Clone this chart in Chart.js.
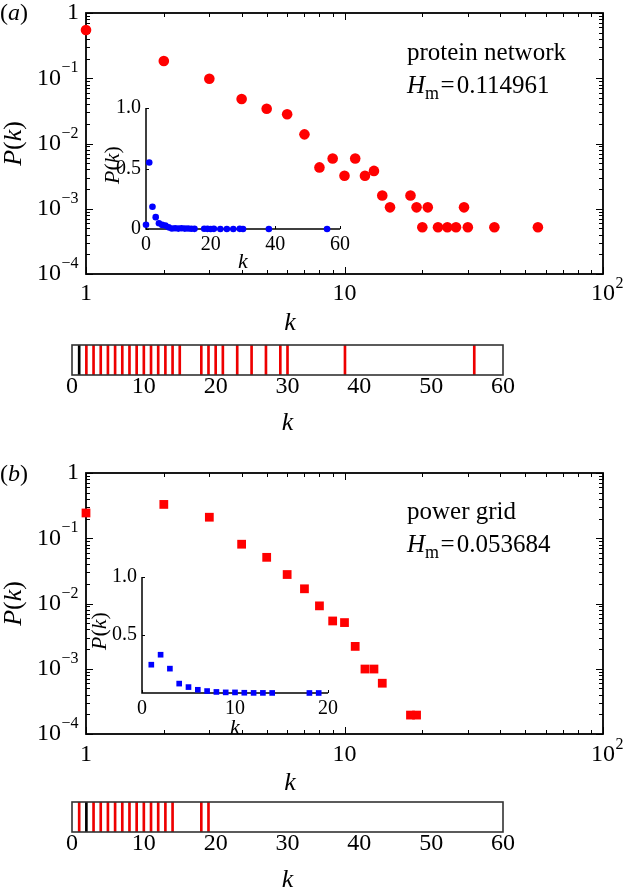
<!DOCTYPE html>
<html>
<head>
<meta charset="utf-8">
<script src="https://cdn.jsdelivr.net/npm/chart.js@4.4.1/dist/chart.umd.min.js"></script>
<style>
  html, body { margin: 0; padding: 0; background: #fff; }
  #fig { position: relative; width: 625px; height: 892px; overflow: hidden; }
  #fig canvas { position: absolute; }
</style>
</head>
<body>
<div id="fig">
  <canvas id="mainA" width="625" height="335" style="left:0;top:0"></canvas>
  <canvas id="insetA" width="260" height="175" style="left:95px;top:95px"></canvas>
  <canvas id="stripA" width="625" height="95" style="left:0;top:335px"></canvas>
  <canvas id="mainB" width="625" height="365" style="left:0;top:430px"></canvas>
  <canvas id="insetB" width="260" height="185" style="left:90px;top:555px"></canvas>
  <canvas id="stripB" width="625" height="97" style="left:0;top:795px"></canvas>
</div>
<script>
// (a) protein network degree distribution
const kA = [1, 2, 3, 4, 5, 6, 7, 8, 9, 10, 11, 12, 13, 14, 15, 18, 19, 20, 21, 23, 25, 27, 29, 30, 38, 56];
const pA = [0.55, 0.184, 0.098, 0.048, 0.034, 0.028, 0.0138, 0.0043, 0.0059, 0.0032, 0.0059, 0.0032, 0.0038,
            0.0016, 0.00105, 0.0016, 0.00105, 0.00052, 0.00105, 0.00052, 0.00052, 0.00052, 0.00105, 0.00052,
            0.00052, 0.00052];
// inset (a) also shows a point at k = 0
const kA0 = [0];
const pA0 = [0.035];
const hmA = '0.114961';

// (b) power grid degree distribution
const kB = [1, 2, 3, 4, 5, 6, 7, 8, 9, 10, 11, 12, 13, 14, 18, 19];
const pB = [0.244, 0.33, 0.21, 0.081, 0.051, 0.0278, 0.0168, 0.0092, 0.0054, 0.0051, 0.0022, 0.00099,
            0.00099, 0.0006, 0.000195, 0.000195];
const hmB = '0.053684';

// ticks
const kTicks = [1, 10, 100];
const pTicks = [1, 0.1, 0.01, 0.001, 0.0001];
const stripTicks = [0, 10, 20, 30, 40, 50, 60];
const insetKTicksA = [0, 20, 40, 60];
const insetPTicksA = [0, 0.5, 1.0];
const insetKTicksB = [0, 10, 20];
const insetPTicksB = [0.5, 1.0];

const SERIF = '"Liberation Serif", "Times New Roman", "DejaVu Serif", serif';
const RED = '#ff0000';
const BLUE = '#0000ff';

function font(size, it) { return (it ? 'italic ' : '') + size + 'px ' + SERIF; }

// draw a run of text pieces (italic / sub / sup) one after the other
function rich(ctx, parts, x, y, size, align, baseline) {
  ctx.textAlign = 'left';
  ctx.textBaseline = baseline || 'alphabetic';
  const widths = parts.map(p => { ctx.font = font(p.size || size, p.it); return ctx.measureText(p.t).width + (p.dx || 0); });
  const total = widths.reduce((s, w) => s + w, 0);
  let cx = align === 'center' ? x - total / 2 : align === 'right' ? x - total : x;
  parts.forEach((p, i) => {
    ctx.font = font(p.size || size, p.it);
    ctx.fillText(p.t, cx + (p.dx || 0) / 2, y + (p.dy || 0));
    cx += widths[i];
  });
  return total;
}

function powParts(v, size, plainTen) {
  const e = Math.round(Math.log10(v));
  if (e === 0) return [{ t: '1' }];
  if (e === 1 && plainTen) return [{ t: '10' }];
  return [{ t: '10' }, { t: (e < 0 ? '\u2212' : '') + Math.abs(e), size: Math.round(size * 0.66), dy: -size * 0.42, dx: 1 }];
}

const pkParts = [{ t: 'P', it: true }, { t: '(' }, { t: 'k', it: true }, { t: ')' }];

// MATLAB-like log-log box: frame, inward major/minor ticks, labels
function logBox(chart, o) {
  const { ctx, chartArea: a, scales: { x, y } } = chart;
  ctx.save();
  ctx.fillStyle = '#000';
  ctx.strokeStyle = '#000';
  ctx.lineWidth = 1;
  ctx.beginPath();
  for (let i = 0; i < kTicks.length; i++) {
    for (let m = 1; m < 10; m++) {
      const v = kTicks[i] * m;
      if (v > kTicks[kTicks.length - 1]) break;
      const px = Math.round(x.getPixelForValue(v)) + 0.5;
      const len = m === 1 ? 7 : 4;
      ctx.moveTo(px, a.bottom); ctx.lineTo(px, a.bottom - len);
      ctx.moveTo(px, a.top); ctx.lineTo(px, a.top + len);
    }
  }
  for (let i = pTicks.length - 1; i >= 0; i--) {
    for (let m = 1; m < 10; m++) {
      const v = pTicks[i] * m;
      if (v > pTicks[0]) break;
      const py = Math.round(y.getPixelForValue(v)) + 0.5;
      const len = m === 1 ? 7 : 4;
      ctx.moveTo(a.left, py); ctx.lineTo(a.left + len, py);
      ctx.moveTo(a.right, py); ctx.lineTo(a.right - len, py);
    }
  }
  ctx.stroke();
  ctx.lineWidth = 1.8;
  ctx.strokeRect(a.left, a.top, a.right - a.left, a.bottom - a.top);

  const ts = 24;
  // y tick labels
  pTicks.forEach(v => {
    rich(ctx, powParts(v, ts, false), a.left - 7, y.getPixelForValue(v), ts, 'right', 'middle');
  });
  // x tick labels, base centred on the tick
  kTicks.forEach(v => {
    const parts = powParts(v, ts, true);
    ctx.font = font(ts);
    const wb = ctx.measureText(parts[0].t).width;
    rich(ctx, parts, x.getPixelForValue(v) - wb / 2, a.bottom + o.xLabelDy, ts, 'left', 'middle');
  });
  // axis titles
  rich(ctx, [{ t: 'k', it: true }], 290, a.bottom + o.xTitleDy, 26, 'center', 'middle');
  ctx.save();
  ctx.translate(14, (a.top + a.bottom) / 2);
  ctx.rotate(-Math.PI / 2);
  rich(ctx, pkParts, 0, 0, 26, 'center', 'middle');
  ctx.restore();
  // panel letter
  rich(ctx, [{ t: '(' }, { t: o.letter, it: true }, { t: ')' }], 0, o.letterY, 24, 'left', 'middle');
  // annotation
  rich(ctx, [{ t: o.name }], 407, o.nameY, 25, 'left', 'alphabetic');
  rich(ctx, [{ t: 'H', it: true }, { t: 'm', size: 18, dy: 6 }, { t: '=', dx: 3 }, { t: o.hm, dx: 1 }],
       407, o.nameY + 33, 25, 'left', 'alphabetic');
  ctx.restore();
}

// inset with only left and bottom axis lines
function insetAxes(chart, o) {
  const { ctx, chartArea: a, scales: { x, y } } = chart;
  ctx.save();
  ctx.strokeStyle = '#000';
  ctx.fillStyle = '#000';
  ctx.lineWidth = 1.5;
  ctx.beginPath();
  ctx.moveTo(a.left, a.top); ctx.lineTo(a.left, a.bottom); ctx.lineTo(a.right, a.bottom);
  ctx.stroke();
  ctx.lineWidth = 1;
  ctx.beginPath();
  o.kTicks.forEach(v => {
    const px = Math.round(x.getPixelForValue(v)) + 0.5;
    ctx.moveTo(px, a.bottom); ctx.lineTo(px, a.bottom - 3);
  });
  o.pTicks.forEach(v => {
    const py = Math.round(y.getPixelForValue(v)) + 0.5;
    ctx.moveTo(a.left, py); ctx.lineTo(a.left + 3, py);
  });
  ctx.stroke();
  const ts = 20;
  o.kTicks.forEach(v => rich(ctx, [{ t: String(v) }], x.getPixelForValue(v), a.bottom + 16, ts, 'center', 'middle'));
  o.pTicks.forEach(v => rich(ctx, [{ t: v === 0 ? '0' : v.toFixed(1) }], a.left - 5, y.getPixelForValue(v), ts, 'right', 'middle'));
  rich(ctx, [{ t: 'k', it: true }], o.kTitleX, a.bottom + o.kTitleDy, 22, 'center', 'middle');
  ctx.save();
  ctx.translate(o.pTitleX, o.pTitleY);
  ctx.rotate(-Math.PI / 2);
  rich(ctx, pkParts, 0, 0, 22, 'center', 'middle');
  ctx.restore();
  ctx.restore();
}

const baseOptions = (padding) => ({
  responsive: false,
  animation: false,
  events: [],
  layout: { padding },
  plugins: { legend: { display: false }, tooltip: { enabled: false } }
});

function scatterSet(ks, ps, color, shape, r) {
  return {
    data: ks.map((k, i) => ({ x: k, y: ps[i] })),
    pointStyle: shape,
    pointRadius: r,
    pointBackgroundColor: color,
    pointBorderColor: color,
    pointBorderWidth: 0,
    showLine: false,
    clip: false
  };
}

function mainChart(id, ks, ps, shape, r, padding, deco) {
  return new Chart(document.getElementById(id), {
    type: 'scatter',
    data: { datasets: [scatterSet(ks, ps, RED, shape, r)] },
    options: Object.assign(baseOptions(padding), {
      scales: {
        x: { type: 'logarithmic', min: kTicks[0], max: kTicks[kTicks.length - 1], display: false },
        y: { type: 'logarithmic', min: pTicks[pTicks.length - 1], max: pTicks[0], display: false }
      }
    }),
    plugins: [{ id: 'box', beforeDatasetsDraw: c => logBox(c, deco) }]
  });
}

function insetChart(id, ks, ps, shape, r, kMax, padding, deco) {
  return new Chart(document.getElementById(id), {
    type: 'scatter',
    data: { datasets: [scatterSet(ks, ps, BLUE, shape, r)] },
    options: Object.assign(baseOptions(padding), {
      scales: {
        x: { type: 'linear', min: 0, max: kMax, display: false },
        y: { type: 'linear', min: 0, max: 1, display: false }
      }
    }),
    plugins: [{ id: 'axes', beforeDatasetsDraw: c => insetAxes(c, deco) }]
  });
}

function stripChart(id, ks, ps, padding) {
  const top = ps.indexOf(Math.max(...ps));
  return new Chart(document.getElementById(id), {
    type: 'bar',
    data: {
      datasets: [{
        data: ks.map(k => ({ x: k, y: 1 })),
        backgroundColor: ks.map((k, i) => i === top ? '#000' : '#ee0000'),
        borderWidth: 0,
        barThickness: 2
      }]
    },
    options: Object.assign(baseOptions(padding), {
      scales: {
        x: { type: 'linear', min: stripTicks[0], max: stripTicks[stripTicks.length - 1], offset: false, display: false },
        y: { type: 'linear', min: 0, max: 1, display: false }
      }
    }),
    plugins: [{
      id: 'frame',
      afterDatasetsDraw(c) {
        const { ctx, chartArea: a, scales: { x } } = c;
        ctx.save();
        ctx.strokeStyle = '#333';
        ctx.lineWidth = 1.6;
        ctx.strokeRect(a.left, a.top, a.right - a.left, a.bottom - a.top);
        ctx.fillStyle = '#000';
        stripTicks.forEach(v => rich(ctx, [{ t: String(v) }], x.getPixelForValue(v), a.bottom + 12, 24, 'center', 'middle'));
        rich(ctx, [{ t: 'k', it: true }], (a.left + a.right) / 2, a.bottom + 48, 26, 'center', 'middle');
        ctx.restore();
      }
    }]
  });
}

mainChart('mainA', kA, pA, 'circle', 5.3, { left: 86, top: 13, right: 22, bottom: 61 },
  { letter: 'a', letterY: 14, name: 'protein network', nameY: 60, hm: hmA, xLabelDy: 20, xTitleDy: 49 });
insetChart('insetA', kA0.concat(kA), pA0.concat(pA), 'circle', 3.3, 60,
  { left: 51, top: 13, right: 15, bottom: 41 },
  { kTicks: insetKTicksA, pTicks: insetPTicksA, kTitleX: 148, kTitleDy: 33, pTitleX: 18, pTitleY: 70 });
stripChart('stripA', kA, pA, { left: 72, top: 10, right: 122, bottom: 55 });

mainChart('mainB', kB, pB, 'rect', 6.2, { left: 86, top: 43, right: 22, bottom: 61 },
  { letter: 'b', letterY: 45, name: 'power grid', nameY: 89, hm: hmB, xLabelDy: 21, xTitleDy: 49 });
insetChart('insetB', kB, pB, 'rect', 4, 20,
  { left: 52, top: 22, right: 22, bottom: 47 },
  { kTicks: insetKTicksB, pTicks: insetPTicksB, kTitleX: 145, kTitleDy: 35, pTitleX: 10, pTitleY: 76 });
stripChart('stripB', kB, pB, { left: 72, top: 7, right: 122, bottom: 60 });
</script>
</body>
</html>
